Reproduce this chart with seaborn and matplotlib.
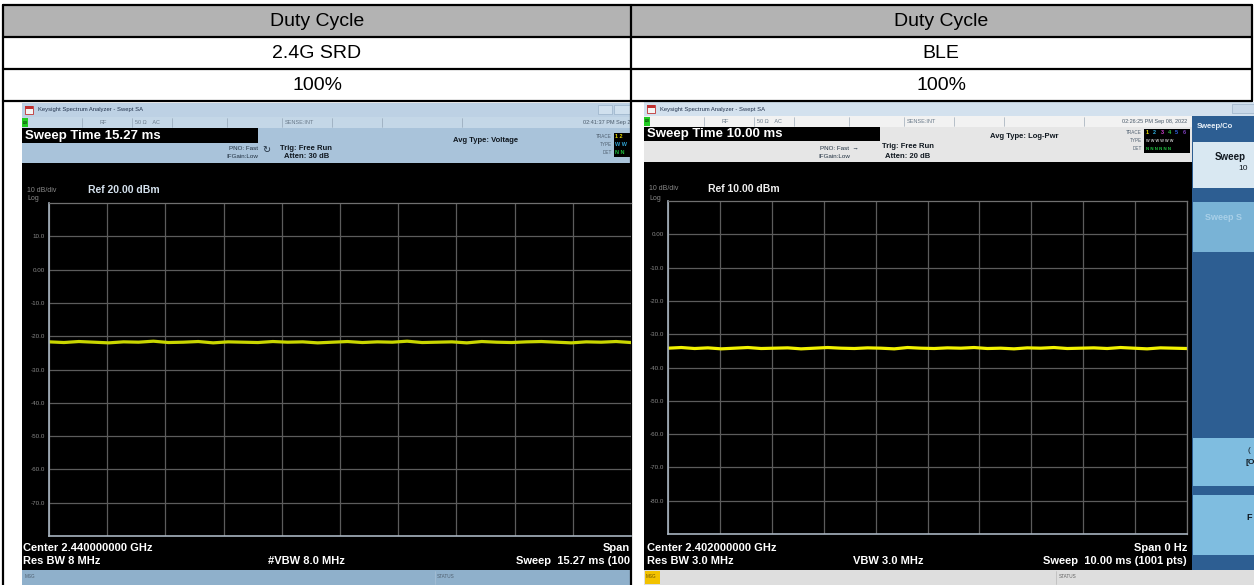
import numpy as np
import pandas as pd
import matplotlib
matplotlib.use("Agg")
import matplotlib.pyplot as plt
from matplotlib.patches import Rectangle
import seaborn as sns

# table text
header = ["Duty Cycle", "Duty Cycle"]
modes = ["2.4G SRD", "BLE"]
duty = ["100%", "100%"]

# analyzer settings
srd_ref = 20.0
ble_ref = 10.0
srd_sweep_ms = 15.27
ble_sweep_ms = 10.00
srd_ylabels = ["10.0", "0.00", "-10.0", "-20.0", "-30.0", "-40.0", "-50.0", "-60.0", "-70.0"]
ble_ylabels = ["0.00", "-10.0", "-20.0", "-30.0", "-40.0", "-50.0", "-60.0", "-70.0", "-80.0"]

# zero-span trace levels (dBm) across the sweep
srd_trace = [-21.7, -21.9, -21.6, -21.8, -22.0, -21.7, -21.8, -21.5, -21.9, -21.8,
             -21.6, -22.0, -21.7, -21.8, -21.9, -21.6, -21.8, -21.7, -22.0, -21.8,
             -21.6, -21.9, -21.7, -21.8, -21.5, -21.9, -21.8, -21.7, -22.0, -21.6,
             -21.8, -21.9, -21.7, -21.6, -21.8, -22.0, -21.7, -21.8, -21.6, -21.9]
ble_trace = [-34.2, -34.0, -34.3, -34.1, -34.4, -34.2, -34.0, -34.3, -34.2, -34.1,
             -34.4, -34.2, -34.0, -34.2, -34.3, -34.1, -34.2, -34.4, -34.0, -34.2,
             -34.3, -34.1, -34.2, -34.0, -34.3, -34.2, -34.4, -34.1, -34.2, -34.0,
             -34.3, -34.2, -34.1, -34.3, -34.0, -34.2, -34.4, -34.1, -34.2, -34.3]

W, H = 1254, 585

sns.set_theme(style="dark")
plt.rcParams['font.family'] = ['Liberation Sans', 'DejaVu Sans']

fig = plt.figure(figsize=(W / 100, H / 100), dpi=100)
fig.patch.set_facecolor("white")

bg = fig.add_axes([0, 0, 1, 1])
bg.set_xlim(0, W)
bg.set_ylim(H, 0)
bg.axis("off")


def rect(x0, y0, x1, y1, color, ec="none", lw=0):
    bg.add_patch(Rectangle((x0, y0), x1 - x0, y1 - y0, facecolor=color, edgecolor=ec, linewidth=lw))


def txt(x, y, s, size, color="black", weight="normal", ha="left"):
    bg.text(x, y, s, fontsize=size, color=color, fontweight=weight, ha=ha, va="center")


def px_axes(x0, y0, x1, y1):
    return fig.add_axes([x0 / W, 1 - y1 / H, (x1 - x0) / W, (y1 - y0) / H])


# ---- table ----
rect(3, 5, 1252, 37, "#b3b3b3")
for yy in [5, 37, 69, 101]:
    bg.plot([3, 1252], [yy, yy], color="black", lw=1.6)
bg.plot([3, 3], [5, 585], color="black", lw=1.6)
bg.plot([631, 631], [5, 585], color="black", lw=1.6)
bg.plot([1252, 1252], [5, 101], color="black", lw=1.6)
for cx, h, m, d in zip([317, 941], header, modes, duty):
    txt(cx, 21, h, 14, ha="center")
    txt(cx, 53, m, 14, ha="center")
    txt(cx, 85, d, 14, ha="center")


def screen_top(x0, x1, y0, tint, panel, row, date, date_x):
    # title bar
    rect(x0, y0, x1, y0 + 14, tint)
    rect(x0 + 3, y0 + 3, x0 + 11, y0 + 11, "#f4f4f4", ec="#c03030", lw=0.6)
    rect(x0 + 3, y0 + 3, x0 + 11, y0 + 6, "#c03030")
    txt(x0 + 16, y0 + 7, "Keysight Spectrum Analyzer - Swept SA", 4.2, "#20304a")
    # status row
    rect(x0, y0 + 14, x1, y0 + 25, row)
    rect(x0, y0 + 15, x0 + 6, y0 + 24, "#22cc22")
    txt(x0 + 1, y0 + 19.5, "LXI", 2.5, "black")
    for cx in [60, 110, 150, 205, 260, 310, 360, 440]:
        bg.plot([x0 + cx, x0 + cx], [y0 + 15, y0 + 24], color="#8899aa", lw=0.4)
    txt(x0 + 78, y0 + 19.5, "RF", 4, "#6a7a8a")
    txt(x0 + 113, y0 + 19.5, "50 \u03a9    AC", 4, "#6a7a8a")
    txt(x0 + 263, y0 + 19.5, "SENSE:INT", 4, "#6a7a8a")
    txt(date_x, y0 + 19.5, date, 4, "#4a5a6a", ha="right")
    # info panel
    rect(x0, y0 + 25, x1, y0 + 60, panel)


# ---- left screenshot (2.4G SRD) ----
L0, L1 = 22, 631
screen_top(L0, L1, 103, "#bdd1e4", "#a9c3da", "#c4d7e7", "02:41:37 PM Sep 2", 630)
rect(598, 105, 612, 114, "#d0e0ee", ec="#90a8c0", lw=0.4)
rect(614, 105, 630, 114, "#d0e0ee", ec="#90a8c0", lw=0.4)
rect(L0, 128, 258, 143, "black")
txt(L0 + 3, 136, "Sweep Time %.2f ms" % srd_sweep_ms, 9.5, "white", "bold")
txt(229, 149, "PNO: Fast", 4.5, "#203040")
txt(226, 157, "IFGain:Low", 4.5, "#203040")
txt(262, 150, "\u21bb", 7, "#203040")
txt(280, 148, "Trig: Free Run", 5.5, "#101820", "bold")
txt(284, 157, "Atten: 30 dB", 5.5, "#101820", "bold")
txt(453, 141, "Avg Type: Voltage", 5.5, "#101820", "bold")
for yy, s in zip([137, 145, 153], ["TRACE", "TYPE", "DET"]):
    txt(612, yy, s, 3.3, "#506070", ha="right")
rect(614, 133, 631, 157, "black")
txt(615, 137, "1 2", 4, "#e8d800", "bold")
txt(615, 145, "W W", 4, "#30a0d0", "bold")
txt(615, 153, "N N", 4, "#20c040", "bold")
rect(L0, 163, L1, 570, "black")
txt(27, 190, "10 dB/div", 5, "#8a8a8a")
txt(27, 199, "Log", 5, "#8a8a8a")
txt(88, 190, "Ref %.2f dBm" % srd_ref, 7.5, "#d5e2ee", "bold")
txt(L0 + 1, 548, "Center 2.440000000 GHz", 8, "white", "bold")
txt(L0 + 1, 561, "Res BW 8 MHz", 8, "white", "bold")
txt(268, 561, "#VBW 8.0 MHz", 8, "white", "bold")
txt(630, 548, "Span", 8, "white", "bold", ha="right")
txt(630, 561, "Sweep  15.27 ms (100", 8, "white", "bold", ha="right")
rect(L0, 570, L1, 585, "#8fb0cb")
txt(25, 577, "MSG", 3.3, "#506070")
bg.plot([435, 435], [571, 584], color="#a8c0d6", lw=0.5)
txt(437, 577, "STATUS", 3.3, "#506070")

# ---- right screenshot (BLE) ----
R0, R1 = 644, 1254
screen_top(R0, R1, 102, "#d3e1ee", "#e6e6e6", "#f2f2f2", "02:26:25 PM Sep 08, 2022", 1187)
rect(1232, 104, 1254, 113, "#c8d8e8", ec="#90a8c0", lw=0.4)
rect(R0, 127, 880, 141, "black")
txt(R0 + 3, 134, "Sweep Time %.2f ms" % ble_sweep_ms, 9.5, "white", "bold")
txt(820, 149, "PNO: Fast  \u2192", 4.5, "#203040")
txt(818, 157, "IFGain:Low", 4.5, "#203040")
txt(882, 147, "Trig: Free Run", 5.5, "#101820", "bold")
txt(885, 156, "Atten: 20 dB", 5.5, "#101820", "bold")
txt(990, 137, "Avg Type: Log-Pwr", 5.5, "#101820", "bold")
for yy, s in zip([133, 141, 149], ["TRACE", "TYPE", "DET"]):
    txt(1142, yy, s, 3.3, "#506070", ha="right")
rect(1144, 129, 1190, 153, "black")
for i, c in enumerate(["#e8d800", "#30b0e0", "#d040d0", "#30c040", "#3060e0", "#8040c0"]):
    txt(1146 + i * 7.3, 133, str(i + 1), 4, c, "bold")
txt(1146, 141, "W W W W W W", 2.8, "#c0c0c0", "bold")
txt(1146, 149, "N N N N N N", 3.2, "#20c040", "bold")
rect(R0, 162, 1192, 570, "black")
# softkey panel
rect(1192, 116, R1, 570, "#2d5e92")
txt(1197, 126, "Sweep/Co", 5.5, "#e8f0f8", "bold")
rect(1193, 142, R1, 188, "#d9e8f2")
txt(1215, 157, "Sweep", 7, "#101820", "bold")
txt(1238, 168, "10", 6, "#101820")
rect(1193, 202, R1, 252, "#79b3d6")
txt(1205, 218, "Sweep S", 6.5, "#a9d0e8", "bold")
rect(1193, 438, R1, 486, "#7fbde0")
txt(1248, 450, "(", 6, "#101820")
txt(1246, 463, "[O", 6, "#101820", "bold")
rect(1193, 495, R1, 555, "#7fbde0")
txt(1246, 518, "F", 6.5, "#101820", "bold")
txt(649, 189, "10 dB/div", 5, "#8a8a8a")
txt(649, 198, "Log", 5, "#8a8a8a")
txt(708, 189, "Ref %.2f dBm" % ble_ref, 7.5, "#f0f0f0", "bold")
txt(R0 + 3, 548, "Center 2.402000000 GHz", 8, "white", "bold")
txt(R0 + 3, 561, "Res BW 3.0 MHz", 8, "white", "bold")
txt(853, 561, "VBW 3.0 MHz", 8, "white", "bold")
txt(1187, 548, "Span 0 Hz", 8, "white", "bold", ha="right")
txt(1187, 561, "Sweep  10.00 ms (1001 pts)", 8, "white", "bold", ha="right")
rect(R0, 570, R1, 585, "#dedede")
rect(R0 + 1, 571, 660, 584, "#f2c200")
txt(646, 577, "MSG", 3.3, "#6a5000")
bg.plot([1056, 1056], [571, 584], color="#b8b8b8", lw=0.5)
txt(1059, 577, "STATUS", 3.3, "#606060")


def analyzer_plot(ax, trace, sweep, ref, labels, visible, color):
    t = np.linspace(0, sweep, len(trace))
    df = pd.DataFrame({"t": t, "dBm": trace})
    sns.lineplot(data=df, x="t", y="dBm", ax=ax, color=color, linewidth=2.3)
    ax.set_facecolor("black")
    ax.set_xlim(0, sweep * visible)
    ax.set_ylim(ref - 100, ref)
    ax.set_xticks(np.arange(11) * sweep / 10)
    ax.set_xticklabels([])
    ax.set_yticks(ref - 10 * np.arange(1, 10))
    ax.set_yticklabels(labels)
    ax.tick_params(axis="both", length=0, pad=3, labelsize=4.5, labelcolor="#8a8a8a")
    ax.grid(True, color="#5c5c5c", linewidth=0.9)
    ax.set_xlabel("")
    ax.set_ylabel("")
    for side, sp in ax.spines.items():
        sp.set_visible(True)
        sp.set_color("#a8b4c0" if side in ("left", "bottom") else "#707070")
        sp.set_linewidth(1.2 if side in ("left", "bottom") else 0.9)
    if visible < 1:
        ax.spines["right"].set_visible(False)


ax1 = px_axes(49, 203, 631, 536)
analyzer_plot(ax1, srd_trace, srd_sweep_ms, srd_ref, srd_ylabels, 582 / 610, "#c9d600")

ax2 = px_axes(668, 201, 1187, 534)
analyzer_plot(ax2, ble_trace, ble_sweep_ms, ble_ref, ble_ylabels, 1.0, "#f2f200")

fig.savefig("out.png", dpi=100, facecolor="white")
